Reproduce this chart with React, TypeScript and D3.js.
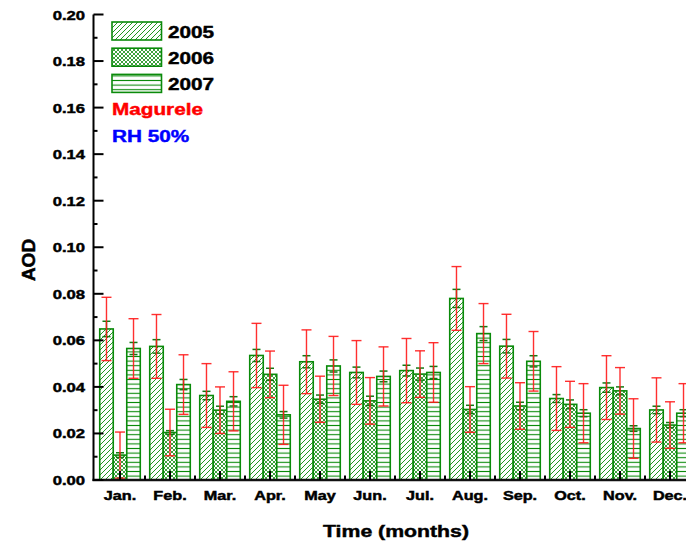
import React from "react";
import * as d3 from "d3";

// Monthly mean aerosol optical depth at Magurele, RH 50%
const months = ["Jan.", "Feb.", "Mar.", "Apr.", "May", "Jun.", "Jul.", "Aug.", "Sep.", "Oct.", "Nov.", "Dec."];
const years = ["2005", "2006", "2007"];

const aod2005 = [0.0649, 0.0574, 0.0363, 0.0535, 0.0508, 0.0462, 0.047, 0.078, 0.0575, 0.035, 0.0397, 0.0301];
const aod2006 = [0.0107, 0.0204, 0.03, 0.0454, 0.0347, 0.034, 0.0455, 0.0303, 0.0318, 0.0325, 0.0383, 0.0236];
const aod2007 = [0.0565, 0.041, 0.0338, 0.028, 0.049, 0.0445, 0.0462, 0.0629, 0.051, 0.0287, 0.0221, 0.0287];

// standard deviation (red bars)
const sd2005 = [0.0136, 0.0137, 0.0137, 0.0138, 0.0137, 0.0137, 0.0138, 0.0137, 0.0137, 0.0137, 0.0137, 0.0138];
const sd2006 = [0.0099, 0.01, 0.01, 0.01, 0.0099, 0.01, 0.01, 0.0098, 0.01, 0.0099, 0.01, 0.01];
const sd2007 = [0.0128, 0.0128, 0.0127, 0.0127, 0.0127, 0.0127, 0.0128, 0.0129, 0.0128, 0.0127, 0.0128, 0.0127];

// standard error (green bars)
const se2005 = [0.0033, 0.0029, 0.0018, 0.0026, 0.0026, 0.0023, 0.0023, 0.0039, 0.0029, 0.0017, 0.002, 0.0016];
const se2006 = [0.001, 0.0008, 0.0017, 0.0026, 0.0018, 0.002, 0.0026, 0.0018, 0.0016, 0.0019, 0.0017, 0.0011];
const se2007 = [0.0026, 0.0022, 0.002, 0.0014, 0.0026, 0.0023, 0.0026, 0.003, 0.0024, 0.0015, 0.0012, 0.0015];

const yTicks = [0, 0.02, 0.04, 0.06, 0.08, 0.1, 0.12, 0.14, 0.16, 0.18, 0.2];
const legendNotes = [
  { text: "Magurele", color: "#ff0000" },
  { text: "RH 50%", color: "#0000ff" },
];

const series = [
  { year: years[0], values: aod2005, sd: sd2005, se: se2005, pattern: "hatch2005" },
  { year: years[1], values: aod2006, sd: sd2006, se: se2006, pattern: "hatch2006" },
  { year: years[2], values: aod2007, sd: sd2007, se: se2007, pattern: "hatch2007" },
];

const W = 686;
const H = 544;
const GREEN = "#0a8a0a";
const FONT = "'Liberation Sans', Arial, Helvetica, sans-serif";
const SX = 1.22; // horizontal stretch of the bold lettering

function Stretched({ x, y, anchor = "start", size, color = "#000", children, sx = SX }: any) {
  return (
    <text
      transform={`translate(${x},${y}) scale(${sx},1)`}
      textAnchor={anchor}
      fontFamily={FONT}
      fontWeight="bold"
      fontSize={size}
      fill={color}
      stroke={color}
      strokeWidth={0.45}
    >
      {children}
    </text>
  );
}

export default function App() {
  const y = d3.scaleLinear().domain([0, 0.2]).range([480, 14.5]);
  const x0 = d3.scaleBand<string>().domain(months).range([95, 695]).padding(0);
  const x1 = d3
    .scaleBand<string>()
    .domain(years)
    .range([0, x0.bandwidth()])
    .paddingInner(0)
    .paddingOuter(0.35);
  const bw = x1.bandwidth();
  const axisX = 93.5;
  const minorTicks = d3.range(0, 0.2001, 0.01);

  return (
    <svg
      width={W}
      height={H}
      viewBox={`0 0 ${W} ${H}`}
      style={{ position: "absolute", left: 0, top: 0, background: "#fff" }}
    >
      <defs>
        <pattern id="hatch2005" patternUnits="userSpaceOnUse" width={5} height={5}>
          <rect width={5} height={5} fill="#fff" />
          <path d="M-1,6 L6,-1 M-1,1 L1,-1 M4,6 L6,4" stroke={GREEN} strokeWidth={0.9} />
        </pattern>
        <pattern id="hatch2006" patternUnits="userSpaceOnUse" width={4} height={4}>
          <rect width={4} height={4} fill="#fff" />
          <path d="M-1,5 L5,-1 M-1,1 L1,-1 M3,5 L5,3 M-1,-1 L5,5 M-1,3 L1,5 M3,-1 L5,1" stroke={GREEN} strokeWidth={0.8} />
        </pattern>
        <pattern id="hatch2007" patternUnits="userSpaceOnUse" width={6} height={4.6}>
          <rect width={6} height={4.6} fill="#fff" />
          <path d="M0,2.3 L6,2.3" stroke={GREEN} strokeWidth={1.1} />
        </pattern>
        <clipPath id="plotClip">
          <rect x={0} y={0} width={W} height={H} />
        </clipPath>
      </defs>

      <g clipPath="url(#plotClip)">
        {/* bars */}
        {series.map((s) =>
          months.map((m, i) => {
            const bx = (x0(m) as number) + (x1(s.year) as number);
            return (
              <rect
                key={`b-${s.year}-${m}`}
                x={bx}
                y={y(s.values[i])}
                width={bw}
                height={y(0) - y(s.values[i])}
                fill={`url(#${s.pattern})`}
                stroke={GREEN}
                strokeWidth={1.6}
              />
            );
          })
        )}

        {/* standard error bars */}
        {series.map((s) =>
          months.map((m, i) => {
            const cx = (x0(m) as number) + (x1(s.year) as number) + bw / 2;
            const top = y(s.values[i] + s.se[i]);
            const bot = y(s.values[i] - s.se[i]);
            return (
              <g key={`se-${s.year}-${m}`} stroke="#127a12" strokeWidth={1.5}>
                <line x1={cx} x2={cx} y1={top} y2={bot} />
                <line x1={cx - 4} x2={cx + 4} y1={top} y2={top} />
                <line x1={cx - 4} x2={cx + 4} y1={bot} y2={bot} />
              </g>
            );
          })
        )}

        {/* standard deviation bars */}
        {series.map((s) =>
          months.map((m, i) => {
            const cx = (x0(m) as number) + (x1(s.year) as number) + bw / 2;
            const top = y(s.values[i] + s.sd[i]);
            const bot = y(Math.max(0, s.values[i] - s.sd[i]));
            return (
              <g key={`sd-${s.year}-${m}`} stroke="#ff1a1a" strokeWidth={1.4} strokeOpacity={0.9}>
                <line x1={cx} x2={cx} y1={top} y2={bot} />
                <line x1={cx - 5} x2={cx + 5} y1={top} y2={top} />
                <line x1={cx - 5} x2={cx + 5} y1={bot} y2={bot} />
              </g>
            );
          })
        )}

        {/* x axis */}
        <line x1={axisX - 1} x2={W} y1={y(0)} y2={y(0)} stroke="#111" strokeWidth={2.4} />
        {months.map((m) => {
          const c = (x0(m) as number) + x0.bandwidth() / 2;
          const b = x0(m) as number;
          return (
            <g key={`xt-${m}`} stroke="#000" strokeWidth={2}>
              <line x1={c} x2={c} y1={y(0)} y2={y(0) - 9} />
              {b > axisX + 3 && <line x1={b} x2={b} y1={y(0)} y2={y(0) - 4.5} />}
            </g>
          );
        })}
        {months.map((m) => (
          <Stretched
            key={`xl-${m}`}
            x={(x0(m) as number) + x0.bandwidth() / 2}
            y={500}
            anchor="middle"
            size={12}
            sx={1.35}
          >
            {m}
          </Stretched>
        ))}
      </g>

      {/* y axis */}
      <line x1={axisX} x2={axisX} y1={y(0.2)} y2={y(0) + 1} stroke="#000" strokeWidth={2} />
      {minorTicks.map((t, k) => (
        <line
          key={`ym-${k}`}
          x1={axisX}
          x2={axisX + (k % 2 === 0 ? 10 : 4)}
          y1={y(t)}
          y2={y(t)}
          stroke="#000"
          strokeWidth={2}
        />
      ))}
      {yTicks.map((t) => (
        <Stretched key={`yl-${t}`} x={85} y={y(t) + 5} anchor="end" size={13} sx={1.28}>
          {t.toFixed(2)}
        </Stretched>
      ))}

      {/* axis titles */}
      <text
        transform={`translate(35,260) rotate(-90)`}
        textAnchor="middle"
        fontFamily={FONT}
        fontWeight="bold"
        fontSize={19}
        fill="#000"
        stroke="#000"
        strokeWidth={0.5}
      >
        AOD
      </text>
      <Stretched x={396} y={537} anchor="middle" size={17} sx={1.25}>
        Time (months)
      </Stretched>

      {/* legend */}
      {series.map((s, k) => (
        <g key={`lg-${s.year}`}>
          <rect
            x={112}
            y={22 + k * 26.2}
            width={49.5}
            height={18}
            fill={`url(#${s.pattern})`}
            stroke={GREEN}
            strokeWidth={1.6}
          />
          <Stretched x={168} y={37.5 + k * 26.2} size={17}>
            {s.year}
          </Stretched>
        </g>
      ))}
      {legendNotes.map((n, k) => (
        <Stretched key={`ln-${k}`} x={112} y={115 + k * 26.5} size={17} color={n.color}>
          {n.text}
        </Stretched>
      ))}
    </svg>
  );
}
